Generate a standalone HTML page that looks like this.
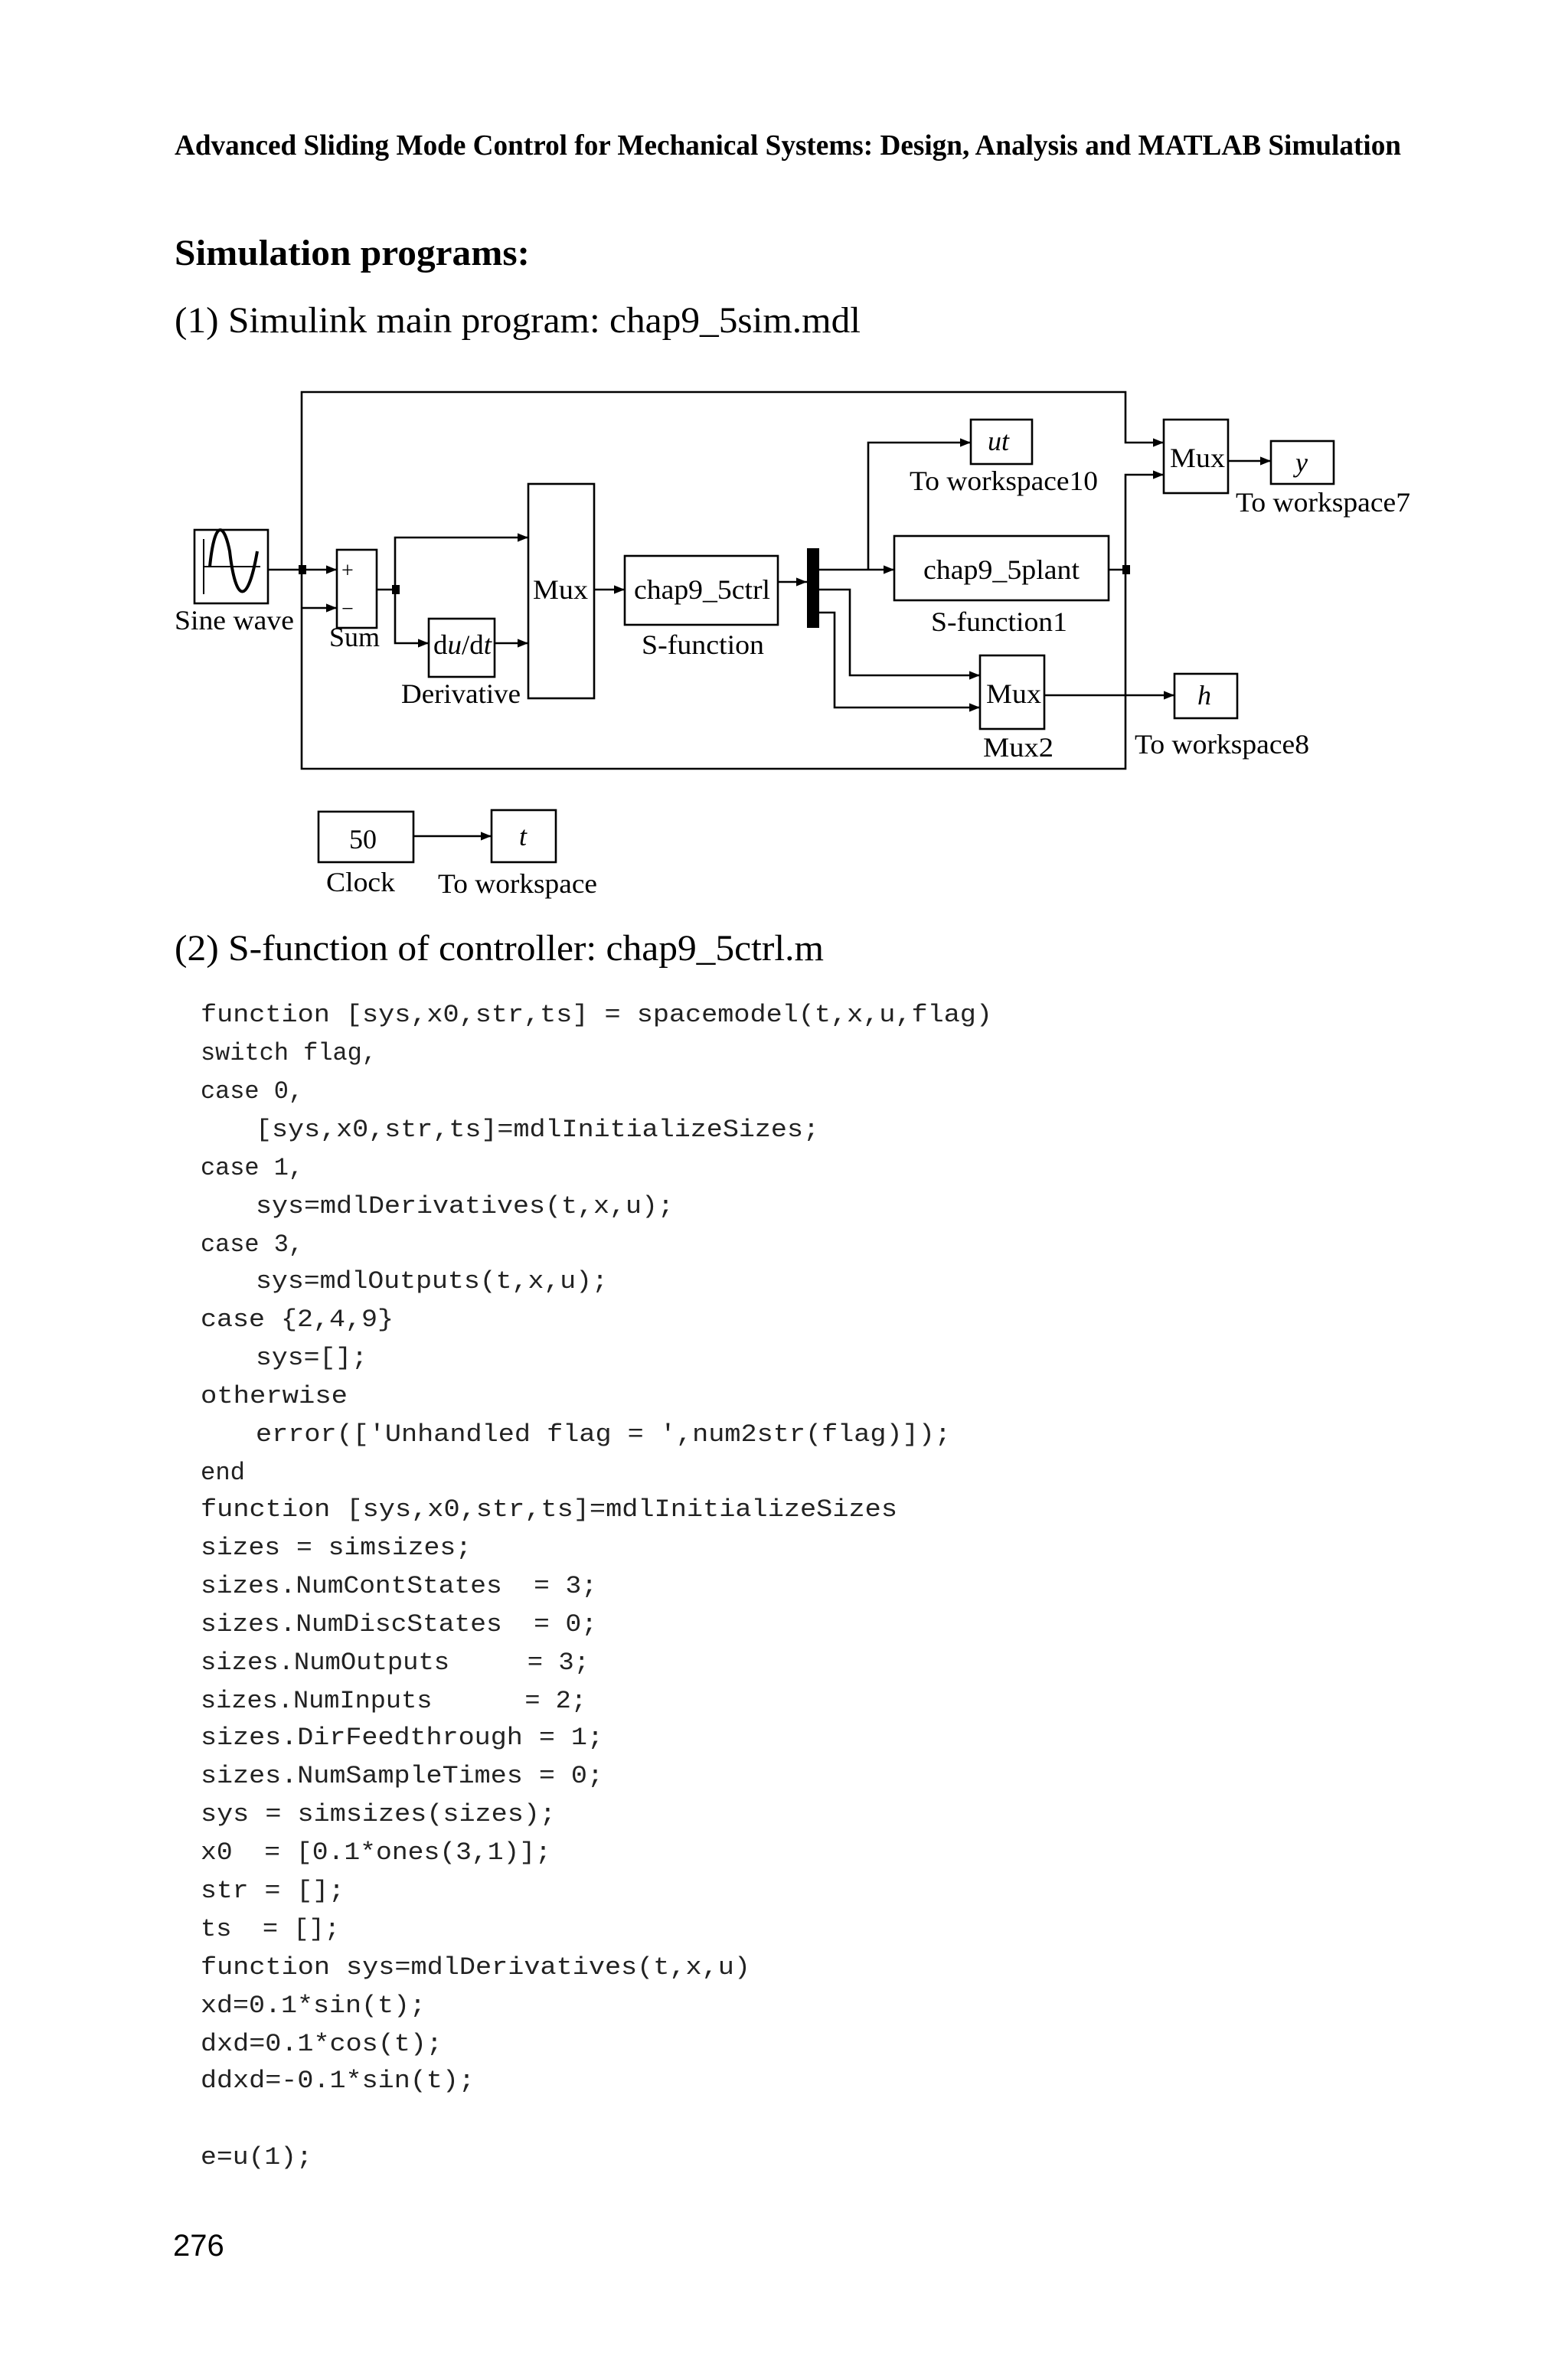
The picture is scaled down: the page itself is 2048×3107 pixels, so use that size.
<!DOCTYPE html>
<html><head><meta charset="utf-8"><style>html,body{margin:0;padding:0;background:#fff}svg{display:block}.c text{white-space:pre}</style></head>
<body>
<svg width="2048" height="3107" viewBox="0 0 1024 1553.5" xmlns="http://www.w3.org/2000/svg">
<defs><marker id="a" viewBox="0 0 10 10" refX="10" refY="5" markerWidth="7" markerHeight="7" markerUnits="userSpaceOnUse" orient="auto"><path d="M0,1 L10,5 L0,9z" fill="#000"/></marker></defs>
<g font-family="'Liberation Serif',serif">
<text x="114" y="101" font-size="19" font-weight="bold" textLength="801" lengthAdjust="spacingAndGlyphs">Advanced Sliding Mode Control for Mechanical Systems: Design, Analysis and MATLAB Simulation</text>
<text x="114" y="173" font-size="24" font-weight="bold" textLength="232" lengthAdjust="spacingAndGlyphs">Simulation programs:</text>
<text x="114" y="217" font-size="24" textLength="448" lengthAdjust="spacingAndGlyphs">(1) Simulink main program: chap9_5sim.mdl</text>
<text x="114" y="627" font-size="24" textLength="424" lengthAdjust="spacingAndGlyphs">(2) S-function of controller: chap9_5ctrl.m</text>
</g>
<g stroke="#000" stroke-width="1.3" fill="none">
<rect x="127" y="346" width="48" height="48"/>
<path d="M133,352 L133,388 M133,370 L170,370" stroke-width="1"/>
<path d="M137,370 C140,340 146,340 150,360 C154,395 162,395 168,360" stroke-width="2"/>
<rect x="220" y="359" width="26" height="51"/>
<rect x="280" y="404" width="43" height="38"/>
<rect x="345" y="316" width="43" height="140"/>
<rect x="408" y="363" width="100" height="45"/>
<rect x="584" y="350" width="140" height="42"/>
<rect x="634" y="274" width="40" height="29"/>
<rect x="760" y="274" width="42" height="48"/>
<rect x="830" y="288" width="41" height="28"/>
<rect x="640" y="428" width="42" height="48"/>
<rect x="767" y="440" width="41" height="29"/>
<rect x="208" y="530" width="62" height="33"/>
<rect x="321" y="529" width="42" height="34"/>
<path d="M175,372 L220,372" marker-end="url(#a)"/>
<path d="M197,372 L197,256 L735,256 L735,289 L760,289" marker-end="url(#a)"/>
<path d="M197,372 L197,502 L735,502 L735,372"/>
<path d="M197,397 L220,397" marker-end="url(#a)"/>
<path d="M246,385 L258,385"/>
<path d="M258,385 L258,351 L345,351" marker-end="url(#a)"/>
<path d="M258,385 L258,420 L280,420" marker-end="url(#a)"/>
<path d="M323,420 L345,420" marker-end="url(#a)"/>
<path d="M388,385 L408,385" marker-end="url(#a)"/>
<path d="M508,380 L527,380" marker-end="url(#a)"/>
<path d="M535,372 L584,372" marker-end="url(#a)"/>
<path d="M567,372 L567,289 L634,289" marker-end="url(#a)"/>
<path d="M535,385 L555,385 L555,441 L640,441" marker-end="url(#a)"/>
<path d="M535,400 L545,400 L545,462 L640,462" marker-end="url(#a)"/>
<path d="M682,454 L767,454" marker-end="url(#a)"/>
<path d="M724,372 L735,372 L735,310 L760,310" marker-end="url(#a)"/>
<path d="M802,301 L830,301" marker-end="url(#a)"/>
<path d="M270,546 L321,546" marker-end="url(#a)"/>
</g>
<rect x="527" y="358" width="8" height="52" fill="#000"/>
<rect x="195" y="369" width="5" height="6" fill="#000"/>
<rect x="256" y="382" width="5" height="6" fill="#000"/>
<rect x="733" y="369" width="5" height="6" fill="#000"/>
<g font-family="'Liberation Serif',serif" font-size="18" fill="#000">
<text x="223" y="377" font-size="14">+</text>
<text x="223" y="402" font-size="14">−</text>
<text x="114" y="411" textLength="78" lengthAdjust="spacingAndGlyphs">Sine wave</text>
<text x="215" y="422">Sum</text>
<text x="283" y="427" textLength="38" lengthAdjust="spacingAndGlyphs">d<tspan font-style="italic">u</tspan>/d<tspan font-style="italic">t</tspan></text>
<text x="262" y="459" textLength="78" lengthAdjust="spacingAndGlyphs">Derivative</text>
<text x="348" y="391" textLength="36" lengthAdjust="spacingAndGlyphs">Mux</text>
<text x="414" y="391" textLength="89" lengthAdjust="spacingAndGlyphs">chap9_5ctrl</text>
<text x="419" y="427" textLength="80" lengthAdjust="spacingAndGlyphs">S-function</text>
<text x="603" y="378" textLength="102" lengthAdjust="spacingAndGlyphs">chap9_5plant</text>
<text x="608" y="412" textLength="89" lengthAdjust="spacingAndGlyphs">S-function1</text>
<text x="645" y="294" font-style="italic">ut</text>
<text x="594" y="320" textLength="123" lengthAdjust="spacingAndGlyphs">To workspace10</text>
<text x="764" y="305" textLength="36" lengthAdjust="spacingAndGlyphs">Mux</text>
<text x="846" y="308" font-style="italic">y</text>
<text x="807" y="334" textLength="114" lengthAdjust="spacingAndGlyphs">To workspace7</text>
<text x="644" y="459" textLength="36" lengthAdjust="spacingAndGlyphs">Mux</text>
<text x="642" y="494" textLength="46" lengthAdjust="spacingAndGlyphs">Mux2</text>
<text x="782" y="460" font-style="italic">h</text>
<text x="741" y="492" textLength="114" lengthAdjust="spacingAndGlyphs">To workspace8</text>
<text x="228" y="554">50</text>
<text x="339" y="552" font-style="italic">t</text>
<text x="213" y="582" textLength="45" lengthAdjust="spacingAndGlyphs">Clock</text>
<text x="286" y="583" textLength="104" lengthAdjust="spacingAndGlyphs">To workspace</text>
</g>
<g class="c" font-family="'Liberation Mono',monospace" font-size="16" fill="#222">
<text x="131" y="667" textLength="517" lengthAdjust="spacingAndGlyphs">function [sys,x0,str,ts] = spacemodel(t,x,u,flag)</text>
<text x="131" y="692" textLength="115" lengthAdjust="spacingAndGlyphs">switch flag,</text>
<text x="131" y="717" textLength="67" lengthAdjust="spacingAndGlyphs">case 0,</text>
<text x="167" y="742" textLength="368" lengthAdjust="spacingAndGlyphs">[sys,x0,str,ts]=mdlInitializeSizes;</text>
<text x="131" y="767" textLength="67" lengthAdjust="spacingAndGlyphs">case 1,</text>
<text x="167" y="792" textLength="273" lengthAdjust="spacingAndGlyphs">sys=mdlDerivatives(t,x,u);</text>
<text x="131" y="817" textLength="67" lengthAdjust="spacingAndGlyphs">case 3,</text>
<text x="167" y="841" textLength="230" lengthAdjust="spacingAndGlyphs">sys=mdlOutputs(t,x,u);</text>
<text x="131" y="866" textLength="126" lengthAdjust="spacingAndGlyphs">case {2,4,9}</text>
<text x="167" y="891" textLength="73" lengthAdjust="spacingAndGlyphs">sys=[];</text>
<text x="131" y="916" textLength="96" lengthAdjust="spacingAndGlyphs">otherwise</text>
<text x="167" y="941" textLength="454" lengthAdjust="spacingAndGlyphs">error(['Unhandled flag = ',num2str(flag)]);</text>
<text x="131" y="966" textLength="29" lengthAdjust="spacingAndGlyphs">end</text>
<text x="131" y="990" textLength="455" lengthAdjust="spacingAndGlyphs">function [sys,x0,str,ts]=mdlInitializeSizes</text>
<text x="131" y="1015" textLength="177" lengthAdjust="spacingAndGlyphs">sizes = simsizes;</text>
<text x="131" y="1040" textLength="259" lengthAdjust="spacingAndGlyphs">sizes.NumContStates  = 3;</text>
<text x="131" y="1065" textLength="259" lengthAdjust="spacingAndGlyphs">sizes.NumDiscStates  = 0;</text>
<text x="131" y="1090" textLength="254" lengthAdjust="spacingAndGlyphs">sizes.NumOutputs     = 3;</text>
<text x="131" y="1115" textLength="252" lengthAdjust="spacingAndGlyphs">sizes.NumInputs      = 2;</text>
<text x="131" y="1139" textLength="263" lengthAdjust="spacingAndGlyphs">sizes.DirFeedthrough = 1;</text>
<text x="131" y="1164" textLength="263" lengthAdjust="spacingAndGlyphs">sizes.NumSampleTimes = 0;</text>
<text x="131" y="1189" textLength="232" lengthAdjust="spacingAndGlyphs">sys = simsizes(sizes);</text>
<text x="131" y="1214" textLength="229" lengthAdjust="spacingAndGlyphs">x0  = [0.1*ones(3,1)];</text>
<text x="131" y="1239" textLength="94" lengthAdjust="spacingAndGlyphs">str = [];</text>
<text x="131" y="1264" textLength="91" lengthAdjust="spacingAndGlyphs">ts  = [];</text>
<text x="131" y="1289" textLength="359" lengthAdjust="spacingAndGlyphs">function sys=mdlDerivatives(t,x,u)</text>
<text x="131" y="1314" textLength="147" lengthAdjust="spacingAndGlyphs">xd=0.1*sin(t);</text>
<text x="131" y="1339" textLength="158" lengthAdjust="spacingAndGlyphs">dxd=0.1*cos(t);</text>
<text x="131" y="1363" textLength="179" lengthAdjust="spacingAndGlyphs">ddxd=-0.1*sin(t);</text>
<text x="131" y="1413" textLength="73" lengthAdjust="spacingAndGlyphs">e=u(1);</text>
</g>
<text x="113" y="1473" font-family="'Liberation Sans',sans-serif" font-size="20">276</text>
</svg>
</body></html>
